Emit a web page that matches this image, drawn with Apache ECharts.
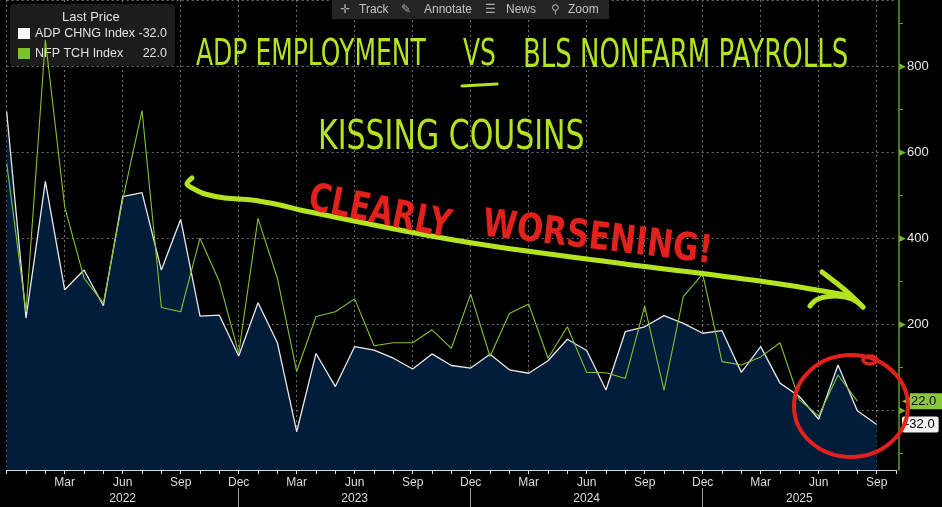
<!DOCTYPE html>
<html><head><meta charset="utf-8">
<script src="https://cdn.jsdelivr.net/npm/echarts@6/dist/echarts.min.js"></script>
<style>html,body{margin:0;padding:0;background:#000;}#c{width:942px;height:507px;}</style>
</head><body><div id="c"></div>
<script>
const categories = [
  'Dec 2021',
  'Jan 2022','Feb 2022','Mar 2022','Apr 2022','May 2022','Jun 2022','Jul 2022','Aug 2022','Sep 2022','Oct 2022','Nov 2022','Dec 2022',
  'Jan 2023','Feb 2023','Mar 2023','Apr 2023','May 2023','Jun 2023','Jul 2023','Aug 2023','Sep 2023','Oct 2023','Nov 2023','Dec 2023',
  'Jan 2024','Feb 2024','Mar 2024','Apr 2024','May 2024','Jun 2024','Jul 2024','Aug 2024','Sep 2024','Oct 2024','Nov 2024','Dec 2024',
  'Jan 2025','Feb 2025','Mar 2025','Apr 2025','May 2025','Jun 2025','Jul 2025','Aug 2025','Sep 2025','Oct 2025'
];
const adpValues = [
  695,
  215, 533, 281, 327, 244, 498, 507, 327, 445, 220, 222, 127,
  251, 158, -49, 133, 56, 149, 141, 122, 97, 132, 105, 99,
  131, 95, 87, 116, 166, 140, 48, 184, 195, 221, 203, 180,
  186, 89, 149, 64, 33, -20, 106, 0, -32
];
const nfpValues = [
  575,
  230, 862, 474, 308, 250, 490, 698, 240, 230, 401, 300, 133,
  447, 308, 91, 219, 230, 260, 151, 158, 158, 188, 145, 271,
  126, 226, 248, 122, 195, 89, 88, 75, 243, 48, 265, 318,
  114, 106, 125, 158, 25, -12, 83, 22
];
const seriesNames = ['ADP CHNG Index', 'NFP TCH Index'];
const monthTickLabels = ['Mar', 'Jun', 'Sep', 'Dec'];
const yearLabels = {'Jun 2022': '2022', 'Jun 2023': '2023', 'Jun 2024': '2024', 'May 2025': '2025'};
const yTickLabels = [200, 400, 600, 800];

const lastAdp = adpValues[adpValues.length - 1];
const lastNfp = nfpValues[nfpValues.length - 1];
const fmt1 = v => v.toFixed(1);

const LIME = '#b3e41f';
const RED = '#e3211c';
const FONT = 'Liberation Sans';

const chart = echarts.init(document.getElementById('c'), null, {renderer: 'canvas'});
chart.setOption({
  backgroundColor: '#000000',
  animation: false,
  title: {
    text: 'Last Price', left: 62, top: 11, padding: 0,
    textStyle: {color: '#e2e2e2', fontSize: 13, fontWeight: 'normal', fontFamily: FONT}
  },
  legend: {
    left: 10, top: 4, orient: 'vertical', z: 1,
    padding: [23, 8, 6, 8], itemGap: 7, itemWidth: 12, itemHeight: 11,
    backgroundColor: '#1c1c1c', borderRadius: 4, selectedMode: false,
    data: [
      {name: seriesNames[0], icon: 'rect', itemStyle: {color: '#ffffff'}},
      {name: seriesNames[1], icon: 'rect', itemStyle: {color: '#7cc02a'}}
    ],
    formatter: name => {
      const v = name === seriesNames[0] ? lastAdp : lastNfp;
      return '{n|' + name + '}{v|' + fmt1(v) + '}';
    },
    textStyle: {
      color: '#e2e2e2', fontSize: 12.5, fontFamily: FONT,
      rich: {
        n: {width: 101, color: '#e2e2e2', fontSize: 12.5, fontFamily: FONT},
        v: {width: 31, align: 'right', color: '#e2e2e2', fontSize: 12.5, fontFamily: FONT}
      }
    }
  },
  grid: {left: 6.7, right: 46, top: 0, bottom: 37, containLabel: false, outerBoundsMode: 'none'},
  xAxis: [
    {
      type: 'category', data: categories, boundaryGap: false,
      axisLine: {onZero: false, lineStyle: {color: '#d6d6d6', width: 1}},
      axisTick: {interval: 0, length: 4, lineStyle: {color: '#d6d6d6'}},
      axisLabel: {
        interval: 0, color: '#dcdcdc', fontSize: 12, fontFamily: FONT, margin: 5, lineHeight: 16,
        formatter: (value, idx) => {
          if (idx === 0) return '';
          const m = value.slice(0, 3);
          let s = monthTickLabels.includes(m) ? m : '';
          if (yearLabels[value]) s += '\n' + yearLabels[value];
          return s;
        }
      },
      splitLine: {
        show: true,
        interval: (idx, value) => monthTickLabels.includes(String(value).slice(0, 3)),
        lineStyle: {color: '#707070', type: [2, 3], width: 1}
      }
    },
    {
      type: 'category', data: categories, boundaryGap: false, position: 'bottom', offset: 18,
      axisLine: {show: false, onZero: false}, axisLabel: {show: false}, splitLine: {show: false},
      axisTick: {show: true, length: 20, interval: (idx, value) => idx > 0 && String(value).startsWith('Dec'), lineStyle: {color: '#9a9a9a'}}
    }
  ],
  yAxis: [
    {
      type: 'value', position: 'right', offset: 3, min: -138, max: 955, splitNumber: 5,
      axisLine: {show: true, onZero: false, lineStyle: {color: '#5e9d2a', width: 1.5}},
      axisTick: {show: false},
      minorTick: {show: true, splitNumber: 2, length: 4, lineStyle: {color: '#5e9d2a'}},
      splitLine: {show: true, lineStyle: {color: '#707070', type: [2, 3], width: 1}},
      axisLabel: {
        margin: 0,
        formatter: v => {
          if (yTickLabels.includes(v)) return '{t|▶}{v|' + v + '}';
          if (v === 0) return '{t|▶}';
          return '';
        },
        rich: {
          t: {color: '#6cb52c', fontSize: 9, padding: [0, 1, 0, 0]},
          v: {color: '#e8e8e8', fontSize: 13, fontFamily: FONT}
        }
      }
    },
    {
      type: 'value', position: 'right', offset: 3, min: -138, max: 955,
      axisLine: {show: false, onZero: false}, axisTick: {show: false}, splitLine: {show: false},
      axisLabel: {
        margin: 3,
        customValues: [lastNfp, lastAdp],
        formatter: v => v === lastNfp ? '{ga|◀}{g|' + fmt1(v) + '}' : '{w|' + fmt1(v) + '}',
        rich: {
          ga: {color: '#8cc63f', fontSize: 11, padding: [0, 0, 0, 0]},
          g: {backgroundColor: '#8cc63f', color: '#0a0a0a', fontSize: 13, fontFamily: FONT, padding: [2, 6, 1, 1]},
          w: {backgroundColor: '#f2f2f2', color: '#000000', fontSize: 13, fontFamily: FONT, padding: [2, 4, 1, 3], borderRadius: 2}
        }
      }
    }
  ],
  series: [
    {
      name: seriesNames[0], type: 'line', data: adpValues, xAxisIndex: 0, yAxisIndex: 0,
      symbol: 'none', z: 2,
      lineStyle: {color: '#e8e8e8', width: 1.3},
      itemStyle: {color: '#ffffff'},
      areaStyle: {color: '#021d3a', opacity: 1, origin: 'start'}
    },
    {
      name: seriesNames[1], type: 'line', data: nfpValues, xAxisIndex: 0, yAxisIndex: 0,
      symbol: 'none', z: 3,
      lineStyle: {color: '#84c232', width: 1.1},
      itemStyle: {color: '#7cc02a'}
    }
  ],
  graphic: [
    {type: 'rect', z: 10, shape: {x: 332, y: 0, width: 277, height: 19}, style: {fill: '#242424'}},
    {type: 'text', z: 11, x: 340, y: 10, style: {text: '✛', fill: '#a9a9a9', fontSize: 12, verticalAlign: 'middle'}},
    {type: 'text', z: 11, x: 359, y: 10, style: {text: 'Track', fill: '#c4c4c4', fontSize: 12, fontFamily: FONT, verticalAlign: 'middle'}},
    {type: 'text', z: 11, x: 401, y: 10, style: {text: '✎', fill: '#a9a9a9', fontSize: 12, verticalAlign: 'middle'}},
    {type: 'text', z: 11, x: 424, y: 10, style: {text: 'Annotate', fill: '#c4c4c4', fontSize: 12, fontFamily: FONT, verticalAlign: 'middle'}},
    {type: 'text', z: 11, x: 485, y: 10, style: {text: '☰', fill: '#a9a9a9', fontSize: 12, verticalAlign: 'middle'}},
    {type: 'text', z: 11, x: 506, y: 10, style: {text: 'News', fill: '#c4c4c4', fontSize: 12, fontFamily: FONT, verticalAlign: 'middle'}},
    {type: 'text', z: 11, x: 551, y: 10, style: {text: '⚲', fill: '#a9a9a9', fontSize: 12, verticalAlign: 'middle'}},
    {type: 'text', z: 11, x: 568, y: 10, style: {text: 'Zoom', fill: '#c4c4c4', fontSize: 12, fontFamily: FONT, verticalAlign: 'middle'}},

    {type: 'text', z: 20, x: 196, y: 36, scaleY: 1.5, style: {text: 'ADP EMPLOYMENT', fill: LIME, fontSize: 25, fontFamily: 'DejaVu Sans', verticalAlign: 'top'}},
    {type: 'text', z: 20, x: 463, y: 36, scaleY: 1.5, style: {text: 'VS', fill: LIME, fontSize: 25, fontFamily: 'DejaVu Sans', verticalAlign: 'top'}},
    {type: 'line', z: 20, shape: {x1: 462, y1: 86, x2: 497, y2: 84}, style: {stroke: LIME, lineWidth: 3, lineCap: 'round'}},
    {type: 'text', z: 20, x: 523, y: 37, scaleY: 1.5, style: {text: 'BLS NONFARM PAYROLLS', fill: LIME, fontSize: 26, fontFamily: 'DejaVu Sans', verticalAlign: 'top'}},
    {type: 'text', z: 20, x: 318, y: 118, scaleY: 1.35, style: {text: 'KISSING COUSINS', fill: LIME, fontSize: 30, fontFamily: 'DejaVu Sans', verticalAlign: 'top'}},

    {type: 'text', z: 20, x: 313, y: 180, rotation: -0.2, scaleY: 1.3, style: {text: 'CLEARLY', fill: RED, fontSize: 30, fontWeight: 'bold', fontFamily: 'DejaVu Sans', verticalAlign: 'top'}},
    {type: 'text', z: 20, x: 485, y: 206, rotation: -0.12, scaleY: 1.25, style: {text: 'WORSENING!', fill: RED, fontSize: 31, fontWeight: 'bold', fontFamily: 'DejaVu Sans', verticalAlign: 'top'}},

    {type: 'polyline', z: 19, shape: {smooth: 0.35, points: [[192, 178], [187, 184], [194, 189], [205, 194], [225, 198], [252, 200], [280, 205], [300, 210], [460, 241], [610, 262], [760, 281], [846, 295]]},
      style: {stroke: LIME, lineWidth: 5, fill: null, lineCap: 'round', lineJoin: 'round'}},
    {type: 'polyline', z: 19, shape: {smooth: 0.3, points: [[822, 272], [845, 290], [863, 307]]},
      style: {stroke: LIME, lineWidth: 5, fill: null, lineCap: 'round'}},
    {type: 'polyline', z: 19, shape: {smooth: 0.4, points: [[810, 306], [818, 299], [836, 296], [852, 299], [863, 307]]},
      style: {stroke: LIME, lineWidth: 5, fill: null, lineCap: 'round'}},

    {type: 'ellipse', z: 21, shape: {cx: 851, cy: 406, rx: 57, ry: 51}, style: {stroke: RED, lineWidth: 4, fill: null}},
    {type: 'ellipse', z: 21, shape: {cx: 870, cy: 360, rx: 7, ry: 4}, style: {stroke: RED, lineWidth: 3.5, fill: null}}
  ]
});
</script></body></html>
